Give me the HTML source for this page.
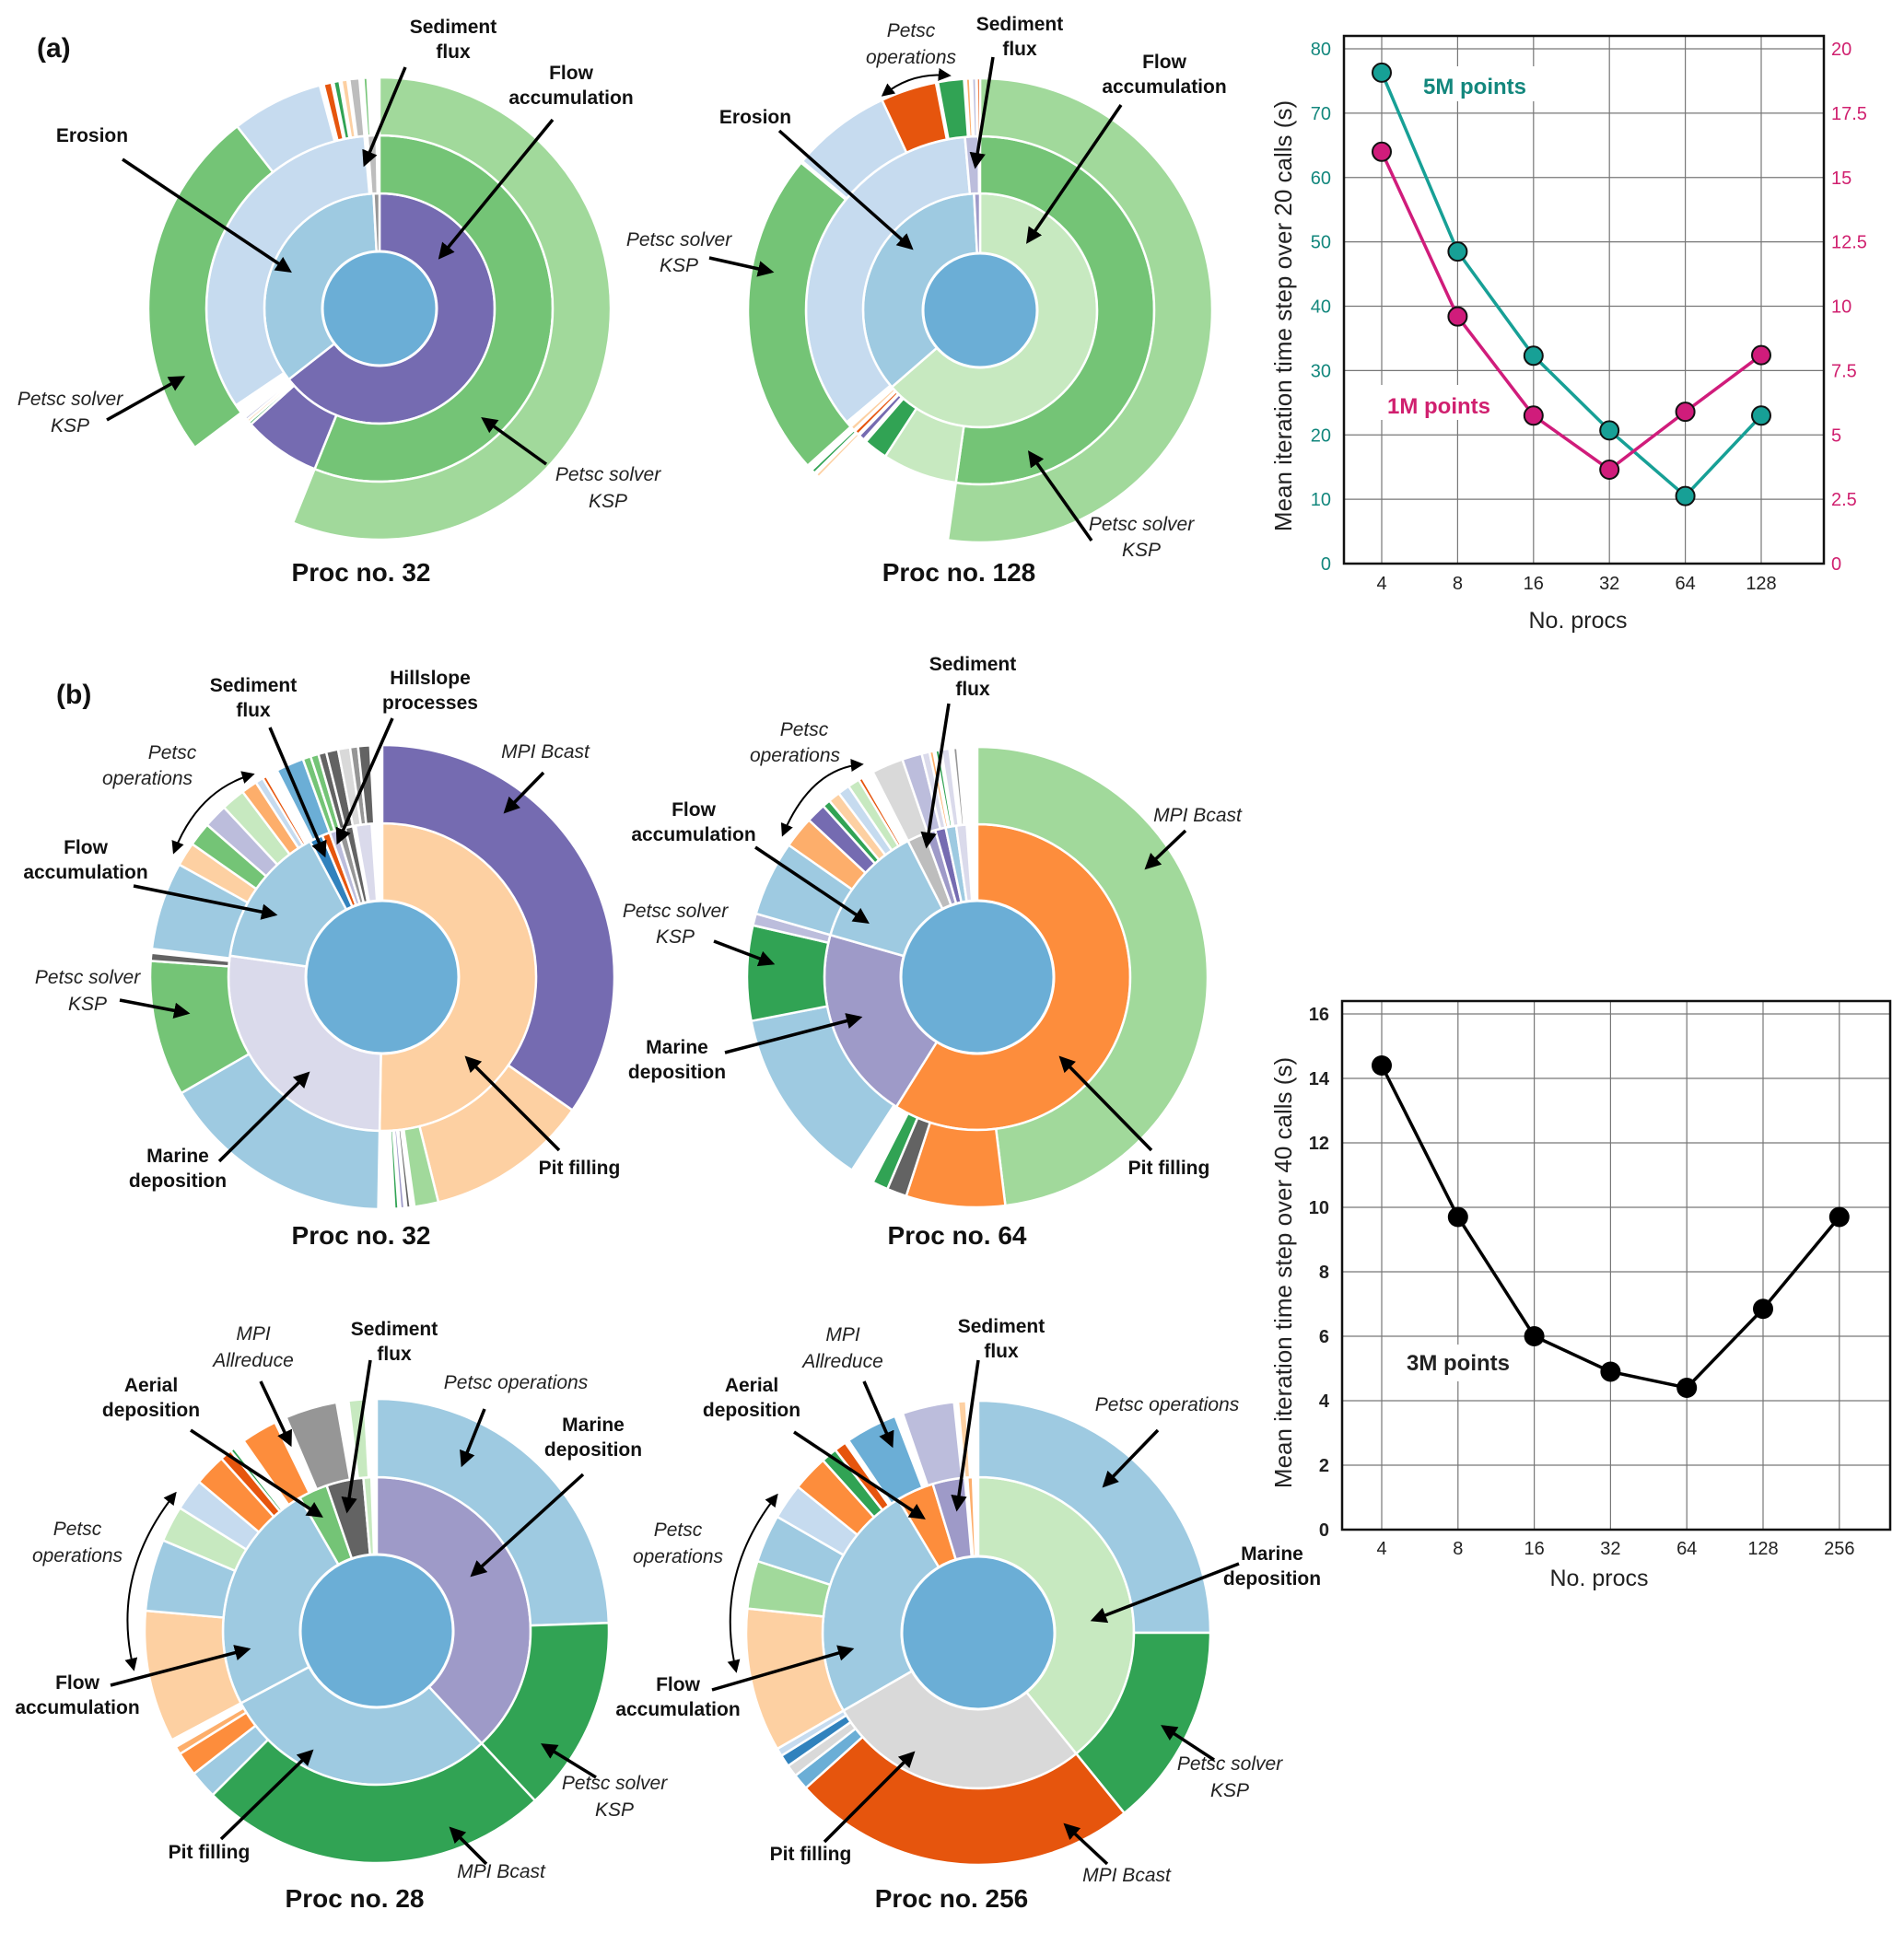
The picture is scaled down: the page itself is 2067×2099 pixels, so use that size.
<!DOCTYPE html>
<html><head><meta charset="utf-8"><style>
html,body{margin:0;padding:0;background:#fff}
svg{display:block;font-family:"Liberation Sans",sans-serif}
.b{font-weight:bold;font-size:21px;fill:#111}
.i{font-style:italic;font-size:21px;fill:#222}
.t{font-weight:bold;font-size:28px;fill:#111}
</style></head><body>
<svg id="fig" width="2067" height="2099" viewBox="0 0 2067 2099" xmlns="http://www.w3.org/2000/svg">
<defs>
<marker id="ah" viewBox="0 0 10 10" refX="8" refY="5" markerWidth="5" markerHeight="5" orient="auto-start-reverse"><path d="M0,0 L10,5 L0,10 z" fill="#000"/></marker>
<marker id="ah2" viewBox="0 0 10 10" refX="8" refY="5" markerWidth="7" markerHeight="7" orient="auto-start-reverse"><path d="M0,0 L10,5 L0,10 z" fill="#000"/></marker>
</defs>
<g id="suns"></g>
<g id="ann">
<text x="40" y="62" class="t" style="font-size:30px">(a)</text>
<text x="61" y="764" class="t" style="font-size:30px">(b)</text>
<!-- A32 -->
<text x="492" y="36" class="b" text-anchor="middle"><tspan x="492">Sediment</tspan><tspan x="492" dy="27">flux</tspan></text>
<text x="620" y="86" class="b" text-anchor="middle"><tspan x="620">Flow</tspan><tspan x="620" dy="27">accumulation</tspan></text>
<text x="100" y="154" class="b" text-anchor="middle">Erosion</text>
<text x="76" y="440" class="i" text-anchor="middle"><tspan x="76">Petsc solver</tspan><tspan x="76" dy="29">KSP</tspan></text>
<text x="660" y="522" class="i" text-anchor="middle"><tspan x="660">Petsc solver</tspan><tspan x="660" dy="29">KSP</tspan></text>
<text x="392" y="631" class="t" text-anchor="middle">Proc no. 32</text>
<!-- A128 -->
<text x="989" y="40" class="i" text-anchor="middle"><tspan x="989">Petsc</tspan><tspan x="989" dy="29">operations</tspan></text>
<text x="1107" y="33" class="b" text-anchor="middle"><tspan x="1107">Sediment</tspan><tspan x="1107" dy="27">flux</tspan></text>
<text x="1264" y="74" class="b" text-anchor="middle"><tspan x="1264">Flow</tspan><tspan x="1264" dy="27">accumulation</tspan></text>
<text x="820" y="134" class="b" text-anchor="middle">Erosion</text>
<text x="737" y="267" class="i" text-anchor="middle"><tspan x="737">Petsc solver</tspan><tspan x="737" dy="28">KSP</tspan></text>
<text x="1239" y="576" class="i" text-anchor="middle"><tspan x="1239">Petsc solver</tspan><tspan x="1239" dy="28">KSP</tspan></text>
<text x="1041" y="631" class="t" text-anchor="middle">Proc no. 128</text>
<!-- B32 -->
<text x="275" y="751" class="b" text-anchor="middle"><tspan x="275">Sediment</tspan><tspan x="275" dy="27">flux</tspan></text>
<text x="467" y="743" class="b" text-anchor="middle"><tspan x="467">Hillslope</tspan><tspan x="467" dy="27">processes</tspan></text>
<text x="187" y="824" class="i" text-anchor="middle"><tspan x="187">Petsc</tspan><tspan x="160" dy="28">operations</tspan></text>
<text x="93" y="927" class="b" text-anchor="middle"><tspan x="93">Flow</tspan><tspan x="93" dy="27">accumulation</tspan></text>
<text x="95" y="1068" class="i" text-anchor="middle"><tspan x="95">Petsc solver</tspan><tspan x="95" dy="29">KSP</tspan></text>
<text x="193" y="1262" class="b" text-anchor="middle"><tspan x="193">Marine</tspan><tspan x="193" dy="27">deposition</tspan></text>
<text x="592" y="823" class="i" text-anchor="middle">MPI Bcast</text>
<text x="629" y="1275" class="b" text-anchor="middle">Pit filling</text>
<text x="392" y="1351" class="t" text-anchor="middle">Proc no. 32</text>
<!-- B64 -->
<text x="1056" y="728" class="b" text-anchor="middle"><tspan x="1056">Sediment</tspan><tspan x="1056" dy="27">flux</tspan></text>
<text x="873" y="799" class="i" text-anchor="middle"><tspan x="873">Petsc</tspan><tspan x="863" dy="28">operations</tspan></text>
<text x="753" y="886" class="b" text-anchor="middle"><tspan x="753">Flow</tspan><tspan x="753" dy="27">accumulation</tspan></text>
<text x="733" y="996" class="i" text-anchor="middle"><tspan x="733">Petsc solver</tspan><tspan x="733" dy="28">KSP</tspan></text>
<text x="735" y="1144" class="b" text-anchor="middle"><tspan x="735">Marine</tspan><tspan x="735" dy="27">deposition</tspan></text>
<text x="1300" y="892" class="i" text-anchor="middle">MPI Bcast</text>
<text x="1269" y="1275" class="b" text-anchor="middle">Pit filling</text>
<text x="1039" y="1351" class="t" text-anchor="middle">Proc no. 64</text>
<!-- B28 -->
<text x="275" y="1455" class="i" text-anchor="middle"><tspan x="275">MPI</tspan><tspan x="275" dy="29">Allreduce</tspan></text>
<text x="428" y="1450" class="b" text-anchor="middle"><tspan x="428">Sediment</tspan><tspan x="428" dy="27">flux</tspan></text>
<text x="164" y="1511" class="b" text-anchor="middle"><tspan x="164">Aerial</tspan><tspan x="164" dy="27">deposition</tspan></text>
<text x="560" y="1508" class="i" text-anchor="middle">Petsc operations</text>
<text x="644" y="1554" class="b" text-anchor="middle"><tspan x="644">Marine</tspan><tspan x="644" dy="27">deposition</tspan></text>
<text x="84" y="1667" class="i" text-anchor="middle"><tspan x="84">Petsc</tspan><tspan x="84" dy="29">operations</tspan></text>
<text x="84" y="1834" class="b" text-anchor="middle"><tspan x="84">Flow</tspan><tspan x="84" dy="27">accumulation</tspan></text>
<text x="667" y="1943" class="i" text-anchor="middle"><tspan x="667">Petsc solver</tspan><tspan x="667" dy="29">KSP</tspan></text>
<text x="544" y="2039" class="i" text-anchor="middle">MPI Bcast</text>
<text x="227" y="2018" class="b" text-anchor="middle">Pit filling</text>
<text x="385" y="2071" class="t" text-anchor="middle">Proc no. 28</text>
<!-- B256 -->
<text x="915" y="1456" class="i" text-anchor="middle"><tspan x="915">MPI</tspan><tspan x="915" dy="29">Allreduce</tspan></text>
<text x="1087" y="1447" class="b" text-anchor="middle"><tspan x="1087">Sediment</tspan><tspan x="1087" dy="27">flux</tspan></text>
<text x="816" y="1511" class="b" text-anchor="middle"><tspan x="816">Aerial</tspan><tspan x="816" dy="27">deposition</tspan></text>
<text x="1267" y="1532" class="i" text-anchor="middle">Petsc operations</text>
<text x="1381" y="1694" class="b" text-anchor="middle"><tspan x="1381">Marine</tspan><tspan x="1381" dy="27">deposition</tspan></text>
<text x="736" y="1668" class="i" text-anchor="middle"><tspan x="736">Petsc</tspan><tspan x="736" dy="29">operations</tspan></text>
<text x="736" y="1836" class="b" text-anchor="middle"><tspan x="736">Flow</tspan><tspan x="736" dy="27">accumulation</tspan></text>
<text x="1335" y="1922" class="i" text-anchor="middle"><tspan x="1335">Petsc solver</tspan><tspan x="1335" dy="29">KSP</tspan></text>
<text x="1223" y="2043" class="i" text-anchor="middle">MPI Bcast</text>
<text x="880" y="2020" class="b" text-anchor="middle">Pit filling</text>
<text x="1033" y="2071" class="t" text-anchor="middle">Proc no. 256</text>
</g>
<g id="arrows"></g>
<g id="chart1"></g>
<g id="chart2"></g>
</svg>
<script>
// ---- sunburst data: [ring, startDeg, endDeg, color] ----
const G0='#c7e9c0',G1='#a1d99b',G2='#74c476',G3='#31a354',B0='#c6dbef',B1='#9ecae1',B2='#6baed6',B3='#3182bd',P0='#dadaeb',P1='#bcbddc',P2='#9e9ac8',P3='#756bb1',O0='#fdd0a2',O1='#fdae6b',O2='#fd8d3c',O3='#e6550d',K1='#d9d9d9',K2='#bdbdbd',K3='#969696',K4='#636363';
const segA32=[[1,0,232,P3],[1,232,357,B1],[1,357,360,K3],[2,0,202,G2],[2,202,228,P3],[2,228,229,G3],[2,229,230,O0],[2,230,231,P1],[2,236,355,B0],[2,356,359,K2],[3,0,202,G1],[3,233,322,G2],[3,322,345,B0],[3,346,348,O3],[3,348.5,350,G3],[3,350.5,352,O0],[3,352.5,355,K2],[3,356,357,G2]];
const segA128=[[1,0,229,G0],[1,229,357,B1],[1,357,360,P2],[2,0,188,G2],[2,188,213,G0],[2,213,221,G3],[2,222,224,P3],[2,224.5,226,O3],[2,226.5,228,O0],[2,230,355,B0],[2,355,359.5,P1],[3,0,188,G1],[3,224,225,O0],[3,225.5,226.5,G3],[3,228,309.5,G2],[3,310,335,B0],[3,335,349,O3],[3,349.5,356,G3],[3,356.5,357.5,O1],[3,358,359,P1],[3,359.2,360,O3]];
const segB32=[[1,0,181,O0],[1,181,278,P0],[1,278,332,B1],[1,332,337,B3],[1,337,340,O3],[1,340,343,P1],[1,343,346,K3],[1,346,349,K4],[1,350,356,P0],[2,0,125,P3],[2,125,166,O0],[2,166,172,G1],[2,173,174,K4],[2,174.5,175.5,P2],[2,176,177,G3],[2,181,240,B1],[2,240,274,G2],[2,274,276,K4],[2,277,299,B1],[2,299,305,O0],[2,305,311,G2],[2,311,317,P1],[2,317,323,G0],[2,323,327,O1],[2,327,329,B0],[2,329,330,O3],[2,333,340,B2],[2,340,342,G2],[2,342,344,G2],[2,344,346,K4],[2,346,349,K4],[2,349,352,K1],[2,352,354,K3],[2,354,357,K4]];
const segB64=[[1,0,212,O2],[1,212,286,P2],[1,286,333,B1],[1,333,340,K2],[1,340,344,P2],[1,344,348,P3],[1,348,352,B1],[1,352,356,P0],[2,0,173,G1],[2,173,198,O2],[2,198,203,K4],[2,203,207,G3],[2,213,259,B1],[2,259,283,G3],[2,283,286,P1],[2,286,305,B1],[2,305,313,O1],[2,313,318,P3],[2,318,320,G3],[2,320,323,O0],[2,323,326,B0],[2,326,329,G0],[2,329,330,O3],[2,333,341,K1],[2,341,346,P1],[2,346,348,P0],[2,348,349,O1],[2,349.5,350.5,G3],[2,351,353,P0],[2,354,355,K3]];
const segB28=[[1,0,137,P2],[1,137,242,B1],[1,242,330,B1],[1,330,341,G2],[1,341,355,K4],[1,355,358,G0],[2,0,88,B1],[2,88,137,G3],[2,137,225,G3],[2,225,232,B1],[2,232,238,O2],[2,238,240,O1],[2,242,275,O0],[2,275,293,B1],[2,293,302,G0],[2,302,310,B0],[2,310,318,O2],[2,318,321,O3],[2,321,322,G3],[2,325,334,O2],[2,337,350,K3],[2,353,357,G0]];
const segB256=[[1,0,141,G0],[1,141,240,K1],[1,240,329,B1],[1,329,343,O2],[1,343,355,P2],[1,356,358,O1],[2,0,90,B1],[2,90,141,G3],[2,141,228,O3],[2,228,232,B2],[2,232,235,K1],[2,235,238,B3],[2,238,240,B0],[2,240,276,O0],[2,276,288,G1],[2,288,300,B1],[2,300,309,B0],[2,309,318,O2],[2,318,322,G3],[2,322,325,O3],[2,326,339,B2],[2,341,354,P1],[2,355,357,O0]];

const NS='http://www.w3.org/2000/svg';
function arc(cx,cy,ri,ro,a0,a1,sy){
  const r=Math.PI/180,p=(rr,a)=>[(cx+rr*Math.sin(a*r)).toFixed(2),(cy-rr*Math.cos(a*r)*sy).toFixed(2)];
  const lg=(a1-a0)>180?1:0;const [x1,y1]=p(ro,a0),[x2,y2]=p(ro,a1),[x3,y3]=p(ri,a1),[x4,y4]=p(ri,a0);
  return `M${x1},${y1} A${ro},${ro*sy} 0 ${lg} 1 ${x2},${y2} L${x3},${y3} A${ri},${ri*sy} 0 ${lg} 0 ${x4},${y4} Z`;
}
function sunburst(name,cx,cy,radii,sy,segs){
  const g=document.createElementNS(NS,'g');
  
  
  document.getElementById('suns').appendChild(g);
  segs.forEach(s=>{
    const p=document.createElementNS(NS,'path');
    p.setAttribute('d',arc(cx,cy,radii[s[0]-1],radii[s[0]],s[1],Math.min(s[2],359.99),sy));
    p.setAttribute('fill',s[3]);p.setAttribute('stroke','#fff');p.setAttribute('stroke-width','2.5');
    
    
    g.appendChild(p);
  });
  const c=document.createElementNS(NS,'ellipse');
  c.setAttribute('cx',cx);c.setAttribute('cy',cy);c.setAttribute('rx',radii[0]);c.setAttribute('ry',radii[0]*sy);
  c.setAttribute('fill','#6baed6');c.setAttribute('stroke','#fff');c.setAttribute('stroke-width','3');
  
  
  g.appendChild(c);
}
sunburst('sunburst-a-32',412,335,[62,125,188,251],1,segA32);
sunburst('sunburst-a-128',1064,337,[62,127,189,252],1,segA128);
sunburst('sunburst-b-32',415,1061,[83,167,252],1,segB32);
sunburst('sunburst-b-64',1061,1061,[83,166,250],1,segB64);
sunburst('sunburst-b-28',409,1771,[83,167,252],1,segB28);
sunburst('sunburst-b-256',1062,1773,[83,169,252],1,segB256);

// arrows
const straight=[[440,73,396,178],[600,130,478,279],[133,173,314,294],[116,456,198,410],[593,504,525,455],
[1078,62,1059,180],[1217,114,1116,262],[846,142,989,269],[770,280,837,295],[1185,587,1118,492],
[293,790,352,928],[426,780,367,914],[145,962,298,993],[130,1086,203,1100],[238,1261,334,1166],[590,839,549,881],[607,1249,507,1149],
[1030,764,1006,918],[820,920,941,1001],[775,1022,838,1046],[787,1143,933,1105],[1287,902,1245,942],[1250,1249,1152,1149],
[283,1500,315,1568],[402,1477,377,1640],[207,1553,348,1646],[526,1530,502,1590],[633,1601,513,1710],[120,1830,269,1791],[647,1930,590,1895],[528,2024,490,1986],[240,1997,338,1902],
[938,1500,968,1569],[1062,1477,1039,1638],[862,1555,1002,1648],[1257,1553,1199,1613],[1345,1698,1187,1759],[773,1835,924,1791],[1318,1911,1263,1875],[1202,2024,1157,1982],[895,2000,991,1904]];
const curved=[[959,103,990,78,1030,82],[274,841,215,858,189,925],[935,830,880,835,850,906],[190,1622,120,1710,145,1812],[843,1624,775,1710,799,1814]];
const ag=document.getElementById('arrows');
straight.forEach(a=>{const l=document.createElementNS(NS,'line');l.setAttribute('x1',a[0]);l.setAttribute('y1',a[1]);l.setAttribute('x2',a[2]);l.setAttribute('y2',a[3]);
l.setAttribute('stroke','#000');l.setAttribute('stroke-width','3.5');l.setAttribute('marker-end','url(#ah)');


ag.appendChild(l);});
curved.forEach(a=>{const p=document.createElementNS(NS,'path');p.setAttribute('d',`M${a[0]},${a[1]} Q${a[2]},${a[3]} ${a[4]},${a[5]}`);
p.setAttribute('fill','none');p.setAttribute('stroke','#000');p.setAttribute('stroke-width','2');p.setAttribute('marker-end','url(#ah2)');p.setAttribute('marker-start','url(#ah2)');


ag.appendChild(p);});

// ---- chart 1 data ----
const procs1=['4','8','16','32','64','128'];
const time5M=[76.3,48.5,32.3,20.7,10.5,23.0];
const time1M=[16.0,9.6,5.75,3.65,5.9,8.1];
const leftTicks1=[0,10,20,30,40,50,60,70,80];
const rightTicks1=[0,2.5,5,7.5,10,12.5,15,17.5,20];
// ---- chart 2 data ----
const procs2=['4','8','16','32','64','128','256'];
const time3M=[14.4,9.7,6.0,4.9,4.4,6.85,9.7];
const ticks2=[0,2,4,6,8,10,12,14,16];

function el(parent,tag,attrs,text){const e=document.createElementNS(NS,tag);for(const k in attrs)e.setAttribute(k,attrs[k]);if(text!==undefined)e.textContent=text;parent.appendChild(e);return e;}

(function(){
  const g=document.getElementById('chart1');
  const L=1459,R=1980,T=39,Bt=612;
  const x=i=>1500+i*82.4, yL=v=>Bt-v*(Bt-53)/80, yR=v=>Bt-v*(Bt-53)/20;
  leftTicks1.forEach(v=>{const gl=el(g,'line',{x1:L,x2:R,y1:yL(v),y2:yL(v),stroke:'#777','stroke-width':1.2});
    
    
    const t=el(g,'text',{x:L-14,y:yL(v)+7,'text-anchor':'end','font-size':20,fill:'#13877d'},String(v));
    
    });
  rightTicks1.forEach(v=>{const t=el(g,'text',{x:R+8,y:yR(v)+7,'font-size':20,fill:'#d0206f'},String(v));
    
    });
  procs1.forEach((p,i)=>{const gl=el(g,'line',{x1:x(i),x2:x(i),y1:T,y2:Bt,stroke:'#777','stroke-width':1.2});
    
    
    const t=el(g,'text',{x:x(i),y:640,'text-anchor':'middle','font-size':20,fill:'#222'},p);
    
    });
  const fr=el(g,'rect',{x:L,y:T,width:R-L,height:Bt-T,fill:'none',stroke:'#111','stroke-width':2.5});
  
  
  const bg1=el(g,'rect',{x:1535,y:72,width:140,height:38,fill:'#fff'});
  
  
  const bg2=el(g,'rect',{x:1497,y:418,width:130,height:38,fill:'#fff'});
  
  
  const l5=el(g,'polyline',{points:time5M.map((v,i)=>x(i)+','+yL(v)).join(' '),fill:'none',stroke:'#17a096','stroke-width':3.5});
  
  
  const l1=el(g,'polyline',{points:time1M.map((v,i)=>x(i)+','+yR(v)).join(' '),fill:'none',stroke:'#d01c7b','stroke-width':3.5});
  
  
  time5M.forEach((v,i)=>{const c=el(g,'circle',{cx:x(i),cy:yL(v),r:10,fill:'#17a096',stroke:'#111','stroke-width':2});
    
    });
  time1M.forEach((v,i)=>{const c=el(g,'circle',{cx:x(i),cy:yR(v),r:10,fill:'#d01c7b',stroke:'#111','stroke-width':2});
    
    });
  const a=el(g,'text',{x:1601,y:102,'text-anchor':'middle','font-size':24,'font-weight':'bold',fill:'#13877d'},'5M points');
  
  
  const b=el(g,'text',{x:1562,y:449,'text-anchor':'middle','font-size':24,'font-weight':'bold',fill:'#d0206f'},'1M points');
  
  
  const xt=el(g,'text',{x:1713,y:682,'text-anchor':'middle','font-size':25,fill:'#222'},'No. procs');
  
  
  const yt=el(g,'text',{x:0,y:0,transform:'translate(1402,343) rotate(-90)','text-anchor':'middle','font-size':26,fill:'#222'},'Mean iteration time step over 20 calls (s)');
  
  
})();

(function(){
  const g=document.getElementById('chart2');
  const L=1457,R=2052,T=1087,Bt=1661;
  const x=i=>1500+i*82.8, y=v=>Bt-v*35;
  ticks2.forEach(v=>{const gl=el(g,'line',{x1:L,x2:R,y1:y(v),y2:y(v),stroke:'#777','stroke-width':1.2});
    
    
    const t=el(g,'text',{x:L-14,y:y(v)+7,'text-anchor':'end','font-size':20,'font-weight':'bold',fill:'#222'},String(v));
    
    });
  procs2.forEach((p,i)=>{const gl=el(g,'line',{x1:x(i),x2:x(i),y1:T,y2:Bt,stroke:'#777','stroke-width':1.2});
    
    
    const t=el(g,'text',{x:x(i),y:1688,'text-anchor':'middle','font-size':20,fill:'#222'},p);
    
    });
  const fr=el(g,'rect',{x:L,y:T,width:R-L,height:Bt-T,fill:'none',stroke:'#111','stroke-width':2.5});
  
  
  const bg=el(g,'rect',{x:1515,y:1460,width:140,height:40,fill:'#fff'});
  
  
  const ln=el(g,'polyline',{points:time3M.map((v,i)=>x(i)+','+y(v)).join(' '),fill:'none',stroke:'#000','stroke-width':3.5});
  
  
  time3M.forEach((v,i)=>{const c=el(g,'circle',{cx:x(i),cy:y(v),r:11,fill:'#000'});
    
    });
  const a=el(g,'text',{x:1583,y:1488,'text-anchor':'middle','font-size':24,'font-weight':'bold',fill:'#222'},'3M points');
  
  
  const xt=el(g,'text',{x:1736,y:1722,'text-anchor':'middle','font-size':25,fill:'#222'},'No. procs');
  
  
  const yt=el(g,'text',{x:0,y:0,transform:'translate(1402,1382) rotate(-90)','text-anchor':'middle','font-size':26,fill:'#222'},'Mean iteration time step over 40 calls (s)');
  
  
})();
</script>
</body></html>
